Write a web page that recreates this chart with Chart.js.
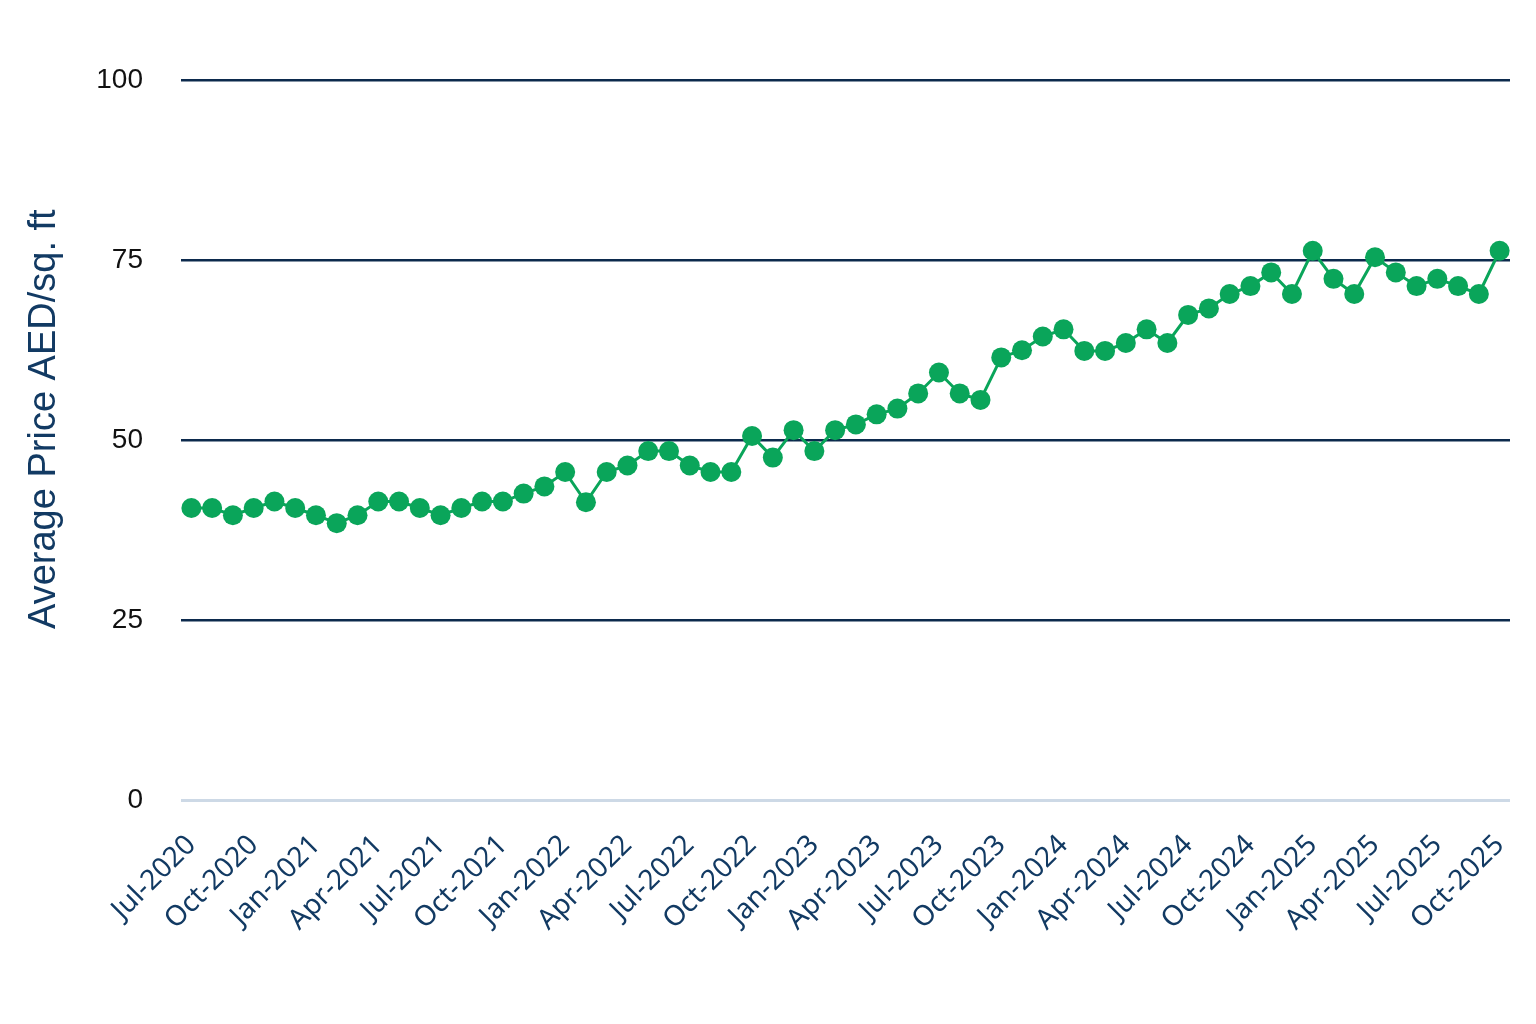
<!DOCTYPE html>
<html>
<head>
<meta charset="utf-8">
<script src="https://cdn.jsdelivr.net/npm/chart.js@4.4.1/dist/chart.umd.min.js"></script>
<style>
  html, body { margin: 0; padding: 0; background: #fff; overflow: hidden; }
  #wrap { position: relative; width: 1536px; height: 1024px; }
  canvas { display: block; }
</style>
</head>
<body>
<div id="wrap"><canvas id="priceChart"></canvas></div>
<script>
const monthNames = ['Jan','Feb','Mar','Apr','May','Jun','Jul','Aug','Sep','Oct','Nov','Dec'];

// Jul-2020 .. Oct-2025, monthly
const months = [];
for (let y = 2020; y <= 2025; y++) {
  for (let m = 0; m < 12; m++) {
    if (y === 2020 && m < 6) continue;
    if (y === 2025 && m > 9) continue;
    months.push(`${monthNames[m]}-${y}`);
  }
}

const avgPrice = [
  40.6, 40.6, 39.6, 40.6, 41.5, 40.6, 39.6, 38.5, 39.6, 41.5,
  41.5, 40.6, 39.6, 40.6, 41.5, 41.5, 42.6, 43.6, 45.6, 41.4,
  45.6, 46.5, 48.5, 48.5, 46.5, 45.6, 45.6, 50.6, 47.6, 51.4,
  48.5, 51.4, 52.2, 53.6, 54.4, 56.5, 59.4, 56.5, 55.6, 61.5,
  62.5, 64.4, 65.4, 62.4, 62.4, 63.5, 65.4, 63.5, 67.4, 68.3,
  70.3, 71.4, 73.3, 70.3, 76.3, 72.4, 70.3, 75.4, 73.3, 71.4,
  72.4, 71.4, 70.3, 76.3
];

const yTicks = [0, 25, 50, 75, 100];

const green = '#0aa55a';
const navy  = '#0c2a4d';

new Chart(document.getElementById('priceChart'), {
  type: 'line',
  data: {
    labels: months,
    datasets: [{
      label: 'Average Price AED/sq. ft',
      data: avgPrice,
      borderColor: green,
      backgroundColor: green,
      borderWidth: 3,
      pointRadius: 10,
      pointHoverRadius: 10,
      pointBorderWidth: 0,
      tension: 0,
      fill: false
    }]
  },
  options: {
    responsive: true,
    maintainAspectRatio: false,
    animation: false,
    layout: { autoPadding: false, padding: { left: 22, right: 26, top: 80, bottom: 67 } },
    plugins: {
      legend: { display: false },
      tooltip: { enabled: false }
    },
    scales: {
      x: {
        offset: true,
        afterFit: (axis) => { axis.paddingRight = 0; axis.paddingLeft = 0; },
        grid: { display: false },
        border: { display: false },
        ticks: {
          autoSkip: false,
          maxRotation: 45,
          minRotation: 45,
          padding: 20,
          color: '#123a63',
          font: { family: 'Noto Sans', size: 28 },
          callback: (v, i) => (i % 3 === 0 ? months[i] : '')
        }
      },
      y: {
        min: 0,
        max: 100,
        afterBuildTicks: (axis) => { axis.ticks = yTicks.map(v => ({ value: v })); },
        afterFit: (axis) => { axis.width = 159; },
        border: { display: false },
        grid: {
          drawTicks: false,
          lineWidth: (ctx) => (ctx.tick && ctx.tick.value === 0 ? 3 : 2.5),
          color: (ctx) => (ctx.tick && ctx.tick.value === 0 ? '#cdd9e6' : navy)
        },
        ticks: {
          padding: 38,
          color: '#111',
          font: { family: 'Liberation Sans', size: 28 }
        },
        title: {
          display: true,
          text: '    Average Price AED/sq. ft',
          color: '#123a63',
          padding: { top: 0, bottom: 28 },
          font: { family: 'Liberation Sans', size: 38 }
        }
      }
    }
  }
});
</script>
</body>
</html>
